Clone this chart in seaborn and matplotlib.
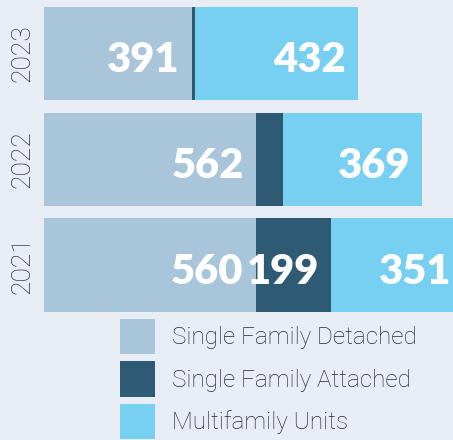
import matplotlib
matplotlib.use("Agg")
import matplotlib.pyplot as plt
from matplotlib.patches import Patch
import seaborn as sns
import pandas as pd
import numpy as np

years = ["2023", "2022", "2021"]
detached = [391, 562, 560]
attached = [8, 69, 199]
multifamily = [432, 369, 351]
series_names = ["Single Family Detached", "Single Family Attached", "Multifamily Units"]
colors = ["#a9c5da", "#2e5a73", "#77cff1"]
bg = "#e8ecf5"

sns.set_theme(style="white")
plt.rcParams["font.family"] = ["Lato", "DejaVu Sans"]
thin = ["Roboto", "DejaVu Sans"]

df = pd.DataFrame({"year": years, "detached": detached, "attached": attached, "multi": multifamily})
df["c1"] = df["detached"]
df["c2"] = df["c1"] + df["attached"]
df["c3"] = df["c2"] + df["multi"]

W, H = 453, 440
fig = plt.figure(figsize=(W / 100, H / 100), dpi=100, facecolor=bg)
ax = fig.add_axes([44 / W, 1 - 318 / H, 409 / W, 318 / H])
ax.set_facecolor(bg)

for col, c in zip(["c3", "c2", "c1"], colors[::-1]):
    sns.barplot(data=df, x=col, y="year", order=years, color=c, width=0.88,
                orient="h", ax=ax, saturation=1, linewidth=0)

ax.set_xlim(0, 409 / 0.378)
ax.set_ylim(2.501, -0.506)
for s in ax.spines.values():
    s.set_visible(False)
ax.set_xticks([])
ax.set_xlabel("")
ax.set_ylabel("")
ax.tick_params(axis="y", length=0, pad=7)
ax.set_yticks(range(len(years)))
ax.set_yticklabels(years, rotation=90, va="center", fontsize=19,
                   fontweight="light", family=thin, color="#333333")

# value labels (small segments are left unlabelled, as in the source)
for i, row in df.iterrows():
    for val, end in [(row["detached"], row["c1"]), (row["attached"], row["c2"]), (row["multi"], row["c3"])]:
        if val < 100:
            continue
        ax.annotate(f"{val}", xy=(end, i), xytext=(-12, -3), textcoords="offset pixels",
                    ha="right", va="center_baseline", color="white", fontsize=30,
                    fontweight="heavy", annotation_clip=False)

handles = [Patch(facecolor=c, edgecolor="none") for c in colors]
fig.legend(handles, series_names, loc="upper left", bbox_to_anchor=(120 / W, 1 - 319 / H),
           frameon=False, handlelength=1.45, handleheight=1.85,
           labelspacing=0.3, handletextpad=0.7, borderpad=0, borderaxespad=0,
           prop={"weight": "light", "size": 17.5, "family": thin}, labelcolor="#2a2a2a")

fig.savefig("out.png", dpi=100, facecolor=bg)
